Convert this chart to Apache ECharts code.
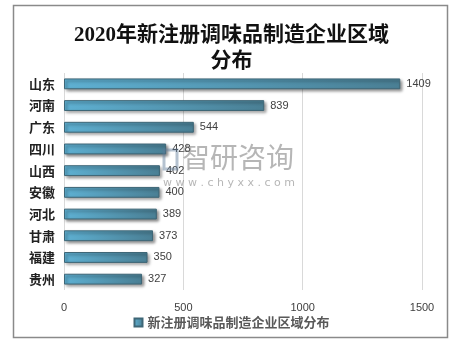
<!DOCTYPE html>
<html><head><meta charset="utf-8">
<script src="https://cdn.jsdelivr.net/npm/echarts@6/dist/echarts.min.js"></script>
<style>html,body{margin:0;padding:0;background:#fff}#c{width:463px;height:345px}</style>
</head><body><div id="c"></div>
<script>
const categories = ['山东','河南','广东','四川','山西','安徽','河北','甘肃','福建','贵州'];
const values = [1409, 839, 544, 428, 402, 400, 389, 373, 350, 327];
const seriesName = '新注册调味品制造企业区域分布';
const titleText = '2020年新注册调味品制造企业区域\n分布';
const xTicks = [0, 500, 1000, 1500];

const chart = echarts.init(document.getElementById('c'));
const grad = new echarts.graphic.LinearGradient(0,0,1,0,[
  {offset:0,color:'#5eb0d2'},{offset:1,color:'#4a7f94'}
]);
chart.setOption({
  animation:false,
  title:{text:titleText,left:'center',top:18,textStyle:{fontFamily:'Liberation Serif, "Noto Sans CJK SC"',fontSize:21,fontWeight:'bold',color:'#111',lineHeight:26}},
  legend:{data:[seriesName],bottom:11,left:'center',itemWidth:8,itemHeight:8,icon:'rect',itemGap:3,
    textStyle:{fontFamily:'"Noto Sans CJK SC"',fontSize:13,color:'#595959',fontWeight:'bold'}},
  grid:{left:64,right:41,top:73,bottom:55,containLabel:false},
  xAxis:{type:'value',min:xTicks[0],max:xTicks[xTicks.length-1],interval:500,
    axisLine:{show:false},axisTick:{show:false},
    splitLine:{show:true,lineStyle:{color:'#d9d9d9',width:1}},
    axisLabel:{margin:12,fontFamily:'"Liberation Sans"',fontSize:11,color:'#404040',formatter:v=>String(v)}},
  yAxis:{type:'category',data:categories,inverse:true,
    axisLine:{show:false},axisTick:{show:false},
    axisLabel:{margin:9,fontFamily:'"Noto Sans CJK SC"',fontSize:13,fontWeight:'bold',color:'#222'}},
  series:[{name:seriesName,type:'bar',data:values,barWidth:'50%',
    itemStyle:{color:grad,borderColor:'#3e6676',borderWidth:1,shadowColor:'rgba(0,0,0,0.45)',shadowBlur:3,shadowOffsetX:2,shadowOffsetY:2},
    label:{show:true,position:'right',distance:6,fontFamily:'"Liberation Sans"',fontSize:11,color:'#404040'}}],
  graphic:[
    {type:'rect',shape:{x:13.5,y:5.5,width:434,height:332},style:{fill:'none',stroke:'#8a8a8a',lineWidth:1.5},silent:true},
    {type:'text',left:182,top:143,style:{text:'智研咨询',font:'28px "Noto Sans CJK SC"',fill:'rgba(110,110,110,0.5)'},z:10},
    {type:'text',left:163,top:178,style:{text:'w w w . c h y x x . c o m',font:'11px "DejaVu Sans"',fill:'rgba(110,110,110,0.5)'},z:10},
    {type:'rect',shape:{x:164,y:150,width:13,height:19},style:{fill:'none',stroke:'rgba(90,120,150,0.45)',lineWidth:3},z:10}
  ]
});
</script></body></html>
